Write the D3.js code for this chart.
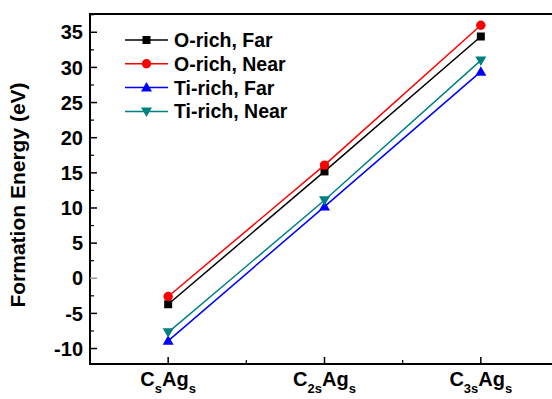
<!DOCTYPE html>
<html>
<head>
<meta charset="utf-8">
<script src="https://cdn.jsdelivr.net/npm/d3@7"></script>
<style>
  body { margin: 0; background: #fff; }
  svg text { font-family: "Liberation Sans", Arial, sans-serif; font-weight: bold; fill: #000; }
</style>
</head>
<body>
<svg id="chart" width="552" height="399"></svg>
<script>
// data
const categories = [
  [{t: "C"}, {t: "s", sub: true}, {t: "Ag"}, {t: "s", sub: true}],
  [{t: "C"}, {t: "2s", sub: true}, {t: "Ag"}, {t: "s", sub: true}],
  [{t: "C"}, {t: "3s", sub: true}, {t: "Ag"}, {t: "s", sub: true}]
];
const seriesNames = ["O-rich, Far", "O-rich, Near", "Ti-rich, Far", "Ti-rich, Near"];
const seriesColors = ["#000000", "#ff0000", "#0000ff", "#008080"];
const seriesSymbols = ["square", "circle", "triangle", "triangleDown"];
const oRichFar = [-3.7, 15.2, 34.4];
const oRichNear = [-2.6, 16.1, 36.0];
const tiRichFar = [-8.9, 10.2, 29.4];
const tiRichNear = [-7.7, 11.1, 31.0];
const yTicks = [-10, -5, 0, 5, 10, 15, 20, 25, 30, 35];
const seriesValues = [oRichFar, oRichNear, tiRichFar, tiRichNear];

const svg = d3.select("#chart");
const plotLeft = 90, plotTop = 14, plotBottom = 364, plotRight = 559;

const x = d3.scaleLinear().domain([-0.5, 2.5]).range([plotLeft, plotRight]);
const y = d3.scaleLinear().domain([-12.2, 37.6]).range([plotBottom, plotTop]);

// frame
svg.append("rect")
  .attr("x", plotLeft).attr("y", plotTop)
  .attr("width", plotRight - plotLeft).attr("height", plotBottom - plotTop)
  .attr("fill", "none").attr("stroke", "#000").attr("stroke-width", 2);

// y axis ticks (inward)
const yMinor = d3.range(-12.5, 37.6, 2.5).filter(v => v > -12.2 && yTicks.indexOf(v) < 0);
svg.append("g").selectAll("line").data(yMinor).join("line")
  .attr("x1", plotLeft).attr("x2", plotLeft + 4)
  .attr("y1", d => y(d)).attr("y2", d => y(d))
  .attr("stroke", "#000").attr("stroke-width", 1.2);
svg.append("g").selectAll("line").data(yTicks).join("line")
  .attr("x1", plotLeft).attr("x2", plotLeft + 7)
  .attr("y1", d => y(d)).attr("y2", d => y(d))
  .attr("stroke", d => d === 0 ? "#999" : "#000").attr("stroke-width", 1.5);
svg.append("g").selectAll("text").data(yTicks).join("text")
  .attr("x", plotLeft - 7).attr("y", d => y(d))
  .attr("dy", "0.36em")
  .attr("text-anchor", "end")
  .attr("font-size", 20)
  .text(d => d);

// x axis ticks
svg.append("g").selectAll("line").data([0, 1, 2]).join("line")
  .attr("x1", d => x(d)).attr("x2", d => x(d))
  .attr("y1", plotBottom).attr("y2", plotBottom - 7)
  .attr("stroke", "#000").attr("stroke-width", 1.5);
svg.append("g").selectAll("line").data([0.5, 1.5]).join("line")
  .attr("x1", d => x(d)).attr("x2", d => x(d))
  .attr("y1", plotBottom).attr("y2", plotBottom - 4)
  .attr("stroke", "#000").attr("stroke-width", 1.2);

const xl = svg.append("g").selectAll("text").data(categories).join("text")
  .attr("x", (d, i) => x(i)).attr("y", 386)
  .attr("text-anchor", "middle")
  .attr("font-size", 20);
xl.each(function(parts) {
  const t = d3.select(this);
  parts.forEach((p, k) => {
    t.append("tspan")
      .attr("font-size", p.sub ? 13 : 20)
      .attr("dy", p.sub ? 7 : (k ? -7 : 0))
      .text(p.t);
  });
});

// y title
svg.append("text")
  .attr("transform", "translate(25," + 195 + ") rotate(-90)")
  .attr("text-anchor", "middle")
  .attr("font-size", 21)
  .text("Formation Energy (eV)");

// symbols
function drawSymbol(g, kind, cx, cy, color) {
  if (kind === "square") {
    g.append("rect").attr("x", cx - 4).attr("y", cy - 4).attr("width", 8).attr("height", 8).attr("fill", color);
  } else if (kind === "circle") {
    g.append("circle").attr("cx", cx).attr("cy", cy).attr("r", 4.7).attr("fill", color);
  } else if (kind === "triangle") {
    g.append("path").attr("d", `M${cx},${cy - 5.5}L${cx + 5.5},${cy + 4}L${cx - 5.5},${cy + 4}Z`).attr("fill", color);
  } else {
    g.append("path").attr("d", `M${cx},${cy + 5.5}L${cx + 5.5},${cy - 4}L${cx - 5.5},${cy - 4}Z`).attr("fill", color);
  }
}

const line = d3.line().x((d, i) => x(i)).y(d => y(d));
seriesValues.forEach((vals, s) => {
  const g = svg.append("g");
  g.append("path").attr("d", line(vals))
    .attr("fill", "none").attr("stroke", seriesColors[s]).attr("stroke-width", 1.5);
  vals.forEach((v, i) => drawSymbol(g, seriesSymbols[s], x(i), y(v), seriesColors[s]));
});

// legend
const legend = svg.append("g");
seriesNames.forEach((name, s) => {
  const ly = 40 + s * 23.8;
  legend.append("line").attr("x1", 125).attr("x2", 168).attr("y1", ly).attr("y2", ly)
    .attr("stroke", seriesColors[s]).attr("stroke-width", 1.5);
  drawSymbol(legend, seriesSymbols[s], 146.5, ly, seriesColors[s]);
  legend.append("text").attr("x", 174).attr("y", ly).attr("dy", "0.36em")
    .attr("font-size", 19.5).text(name);
});
</script>
</body>
</html>
